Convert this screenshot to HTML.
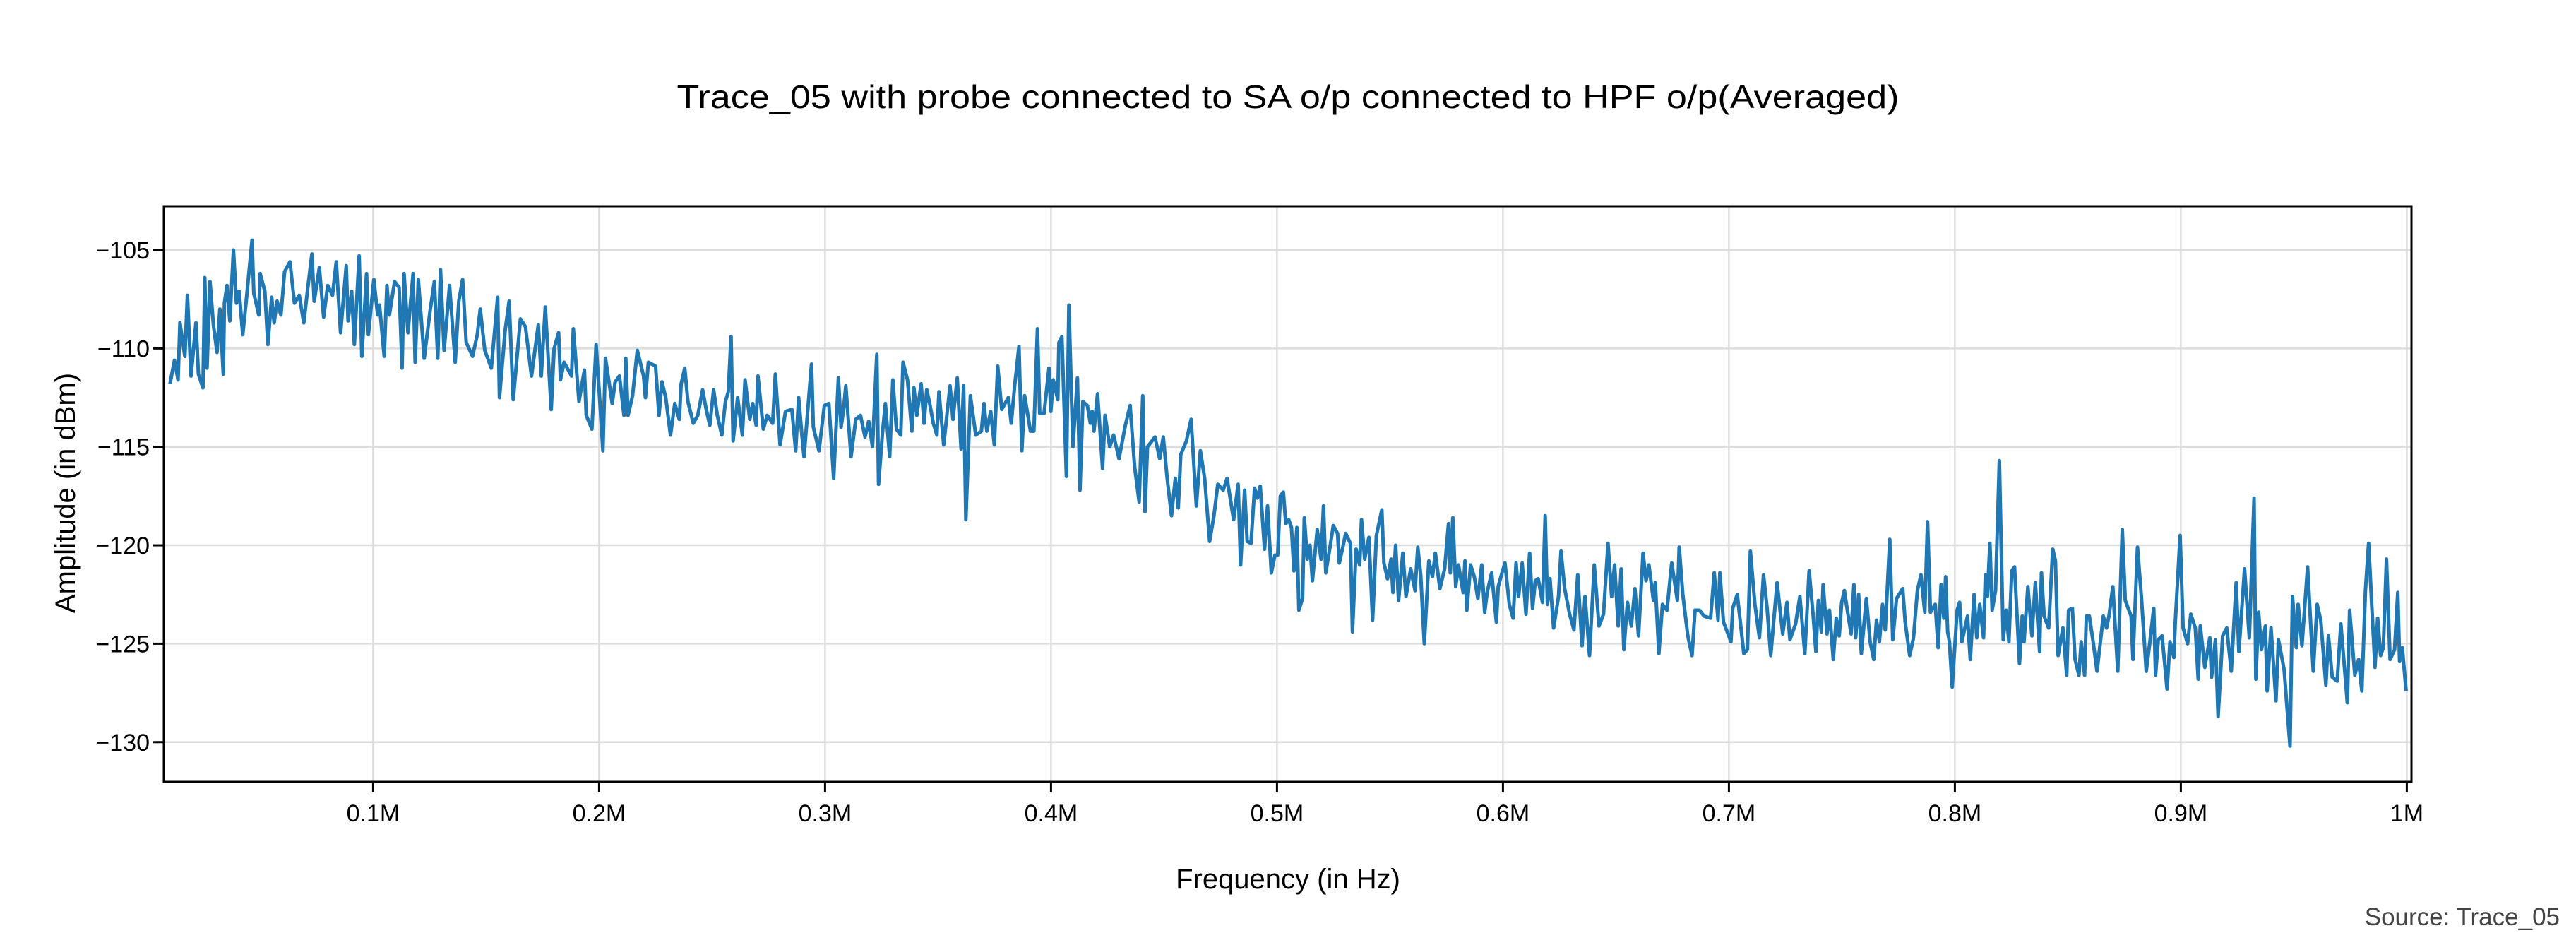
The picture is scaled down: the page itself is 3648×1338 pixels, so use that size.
<!DOCTYPE html>
<html><head><meta charset="utf-8"><style>
html,body{margin:0;padding:0;background:#fff;}
svg{display:block;font-family:"Liberation Sans",sans-serif;}
</style></head><body>
<svg id="chart" width="3648" height="1338" viewBox="0 0 3648 1338" xmlns="http://www.w3.org/2000/svg">
<rect x="0" y="0" width="3648" height="1338" fill="#fff"/>
<text x="1824" y="153" text-anchor="middle" font-size="46" textLength="1731" lengthAdjust="spacingAndGlyphs" fill="#000">Trace_05 with probe connected to SA o/p connected to HPF o/p(Averaged)</text>
<g id="grid"></g>
<g id="trace"></g>
<g id="axes"></g>
<text x="1824" y="1258" text-anchor="middle" font-size="40" fill="#000">Frequency (in Hz)</text>
<text x="0" y="0" transform="translate(106,698) rotate(-90)" text-anchor="middle" font-size="40" fill="#000">Amplitude (in dBm)</text>
<text x="3625" y="1310" text-anchor="end" font-size="35" fill="#444">Source: Trace_05</text>
</svg>
<script>
const freqKHz = [10.1,12.1,13.7,14.5,16.7,17.8,19.4,21.6,22.7,24.7,25.5,26.5,27.8,29.3,30.9,32.2,33.7,34.2,35.3,36.6,38.2,39.5,40.7,42.3,44.0,46.4,47.2,49.4,50.0,52.1,53.4,55.1,56.2,57.5,59.2,60.8,63.2,65.2,67.3,69.3,70.9,72.9,73.9,76.2,78.1,79.9,82.0,83.7,85.6,88.1,88.9,90.5,91.7,93.8,95.0,97.1,97.9,100.3,102.0,102.8,104.9,106.1,107.2,109.5,111.5,112.8,113.7,115.4,117.7,118.6,120.0,122.6,125.2,127.1,128.6,129.8,131.4,133.8,136.3,137.9,139.6,141.2,144.0,146.1,147.4,149.4,152.3,155.1,155.9,158.4,160.2,162.0,165.2,167.4,170.1,173.1,174.4,176.2,178.8,180.1,182.1,182.9,184.5,187.8,188.6,191.1,193.5,194.3,196.8,198.7,200.0,201.7,202.8,205.8,207.1,209.0,211.0,211.8,212.8,214.8,216.9,219.7,220.5,221.8,225.0,226.5,227.8,229.5,231.6,233.5,235.5,236.3,237.9,239.3,241.7,243.7,245.8,247.4,249.0,250.7,252.3,254.3,255.9,257.2,258.4,259.3,261.3,263.4,264.6,266.7,268.0,269.5,270.3,272.7,274.4,276.8,278.0,280.1,282.5,285.3,287.0,288.3,289.6,290.7,294.0,294.8,297.3,299.7,301.7,303.8,305.9,307.1,308.2,309.2,311.5,313.6,315.7,317.7,319.3,321.0,322.9,323.7,325.4,326.7,328.6,330.0,331.6,333.5,334.5,336.5,338.4,339.3,340.6,342.5,343.8,345.0,346.3,347.9,349.5,350.4,352.5,355.3,356.6,358.5,360.2,361.3,362.3,364.3,366.7,369.2,370.3,371.6,373.3,374.9,376.4,378.2,381.1,382.4,383.9,385.8,387.1,388.3,390.9,392.4,394.0,395.0,396.9,399.1,399.9,401.0,403.0,403.5,404.8,406.8,407.9,409.7,411.7,412.8,414.1,416.1,417.4,418.2,419.0,420.6,422.8,423.9,426.0,427.7,430.1,432.9,435.0,437.0,439.0,440.6,441.6,442.7,446.0,448.1,449.7,451.4,453.3,455.0,456.3,457.4,459.9,462.0,464.3,466.1,468.0,470.2,472.1,473.8,476.2,477.9,480.8,482.8,483.9,485.7,486.8,488.5,490.1,491.3,492.6,494.5,495.8,497.5,499.1,500.3,501.5,502.8,503.9,505.2,506.4,507.5,508.8,509.7,511.3,512.1,513.4,514.6,515.7,517.8,519.5,520.6,521.6,523.6,524.9,526.8,527.6,529.3,530.4,532.5,533.4,535.0,536.6,537.4,538.8,540.7,542.3,544.0,546.4,547.3,548.9,550.5,551.3,552.5,553.8,555.7,557.1,559.2,561.1,562.3,563.6,565.2,567.2,568.8,570.1,572.1,574.2,575.9,576.7,577.8,579.1,580.3,582.4,583.2,584.0,585.7,587.3,588.9,590.6,591.9,593.0,595.0,597.1,597.9,599.6,600.9,602.8,604.5,605.8,606.9,608.5,610.2,611.8,613.1,614.3,615.6,617.5,618.7,619.7,620.8,622.4,624.6,625.7,627.3,629.5,631.4,633.1,635.0,636.3,638.3,640.4,642.5,644.5,646.5,648.1,649.4,651.0,652.3,653.5,655.1,656.8,658.4,660.0,662.0,663.3,664.6,666.6,667.4,669.0,670.6,672.6,674.7,677.2,678.0,679.6,681.8,683.7,685.0,687.0,689.0,691.9,693.5,695.2,696.0,697.6,700.9,701.7,703.7,706.6,708.2,709.5,711.5,713.5,715.3,716.9,718.5,721.3,723.8,725.7,727.0,729.5,731.4,733.6,735.5,737.3,738.5,739.6,740.9,741.7,743.4,744.5,746.2,747.5,748.8,749.9,751.1,752.4,754.1,755.3,756.1,757.4,758.6,760.8,762.5,764.1,765.3,766.6,768.0,769.2,771.2,772.5,774.2,776.9,778.0,780.0,781.7,783.4,785.0,786.7,787.9,789.2,791.3,792.6,793.9,795.1,795.9,796.8,797.6,798.8,801.0,802.1,803.1,805.6,806.8,808.5,809.7,811.0,812.7,813.5,814.4,815.5,816.5,818.0,819.7,821.4,822.7,823.9,825.2,826.4,828.6,829.8,830.6,832.3,834.1,835.6,837.5,838.3,839.5,841.5,843.3,844.5,845.7,847.8,849.5,850.3,852.0,853.2,854.9,855.9,857.4,858.2,859.5,861.2,862.9,865.7,867.1,868.2,869.9,872.1,874.1,875.4,878.0,878.8,880.8,882.6,884.7,886.3,888.0,888.8,890.0,891.7,893.9,895.2,896.9,897.5,899.7,901.0,903.0,904.4,906.4,907.7,908.6,910.6,912.8,913.6,915.3,916.5,918.5,920.3,922.3,924.5,925.7,928.2,930.3,932.4,933.2,934.4,935.7,937.4,938.2,939.9,942.1,943.2,945.7,948.3,949.4,951.1,951.9,953.6,956.1,958.6,960.3,961.9,964.2,965.3,967.0,969.2,970.8,973.7,974.7,977.0,978.7,980.1,981.7,983.1,985.9,987.1,988.4,989.6,991.0,992.6,994.6,996.0,996.8,998.0,999.7];
const ampDbm = [-111.8,-110.6,-111.6,-108.7,-110.4,-107.3,-111.4,-108.7,-111.3,-112.0,-106.4,-111,-106.6,-108.8,-110.2,-108,-111.3,-107.7,-106.8,-108.6,-105,-107.7,-107.1,-109.3,-107.4,-104.5,-107.2,-108.3,-106.2,-107.1,-109.8,-107.4,-108.7,-107.6,-108.3,-106.1,-105.6,-107.7,-107.3,-108.7,-107.1,-105.2,-107.6,-105.9,-108.4,-106.8,-107.3,-105.6,-109.2,-105.8,-108.6,-107.1,-109.8,-105.3,-110.4,-106.2,-109.3,-106.5,-108.3,-107.8,-110.4,-106.8,-108.3,-106.6,-106.9,-111,-106.2,-109.2,-106.2,-110.7,-106.5,-110.5,-108.1,-106.6,-110.5,-106,-110.1,-106.8,-110.7,-107.6,-106.5,-109.7,-110.4,-109.3,-108,-110.1,-111,-107.4,-112.5,-109.1,-107.6,-112.6,-108.5,-108.9,-111.4,-108.8,-111.4,-107.9,-113.1,-110,-109.2,-111.6,-110.7,-111.4,-109,-112.7,-111.1,-113.4,-114.1,-109.8,-112.1,-115.2,-110.5,-112.8,-111.7,-111.4,-113.4,-110.5,-113.4,-112.4,-110.1,-111.4,-112.5,-110.7,-110.9,-113.4,-111.7,-112.5,-114.4,-112.8,-113.6,-111.8,-111,-112.7,-113.8,-113.4,-112.1,-113.1,-113.9,-112.1,-113.4,-114.4,-112.7,-112.2,-109.4,-114.7,-112.5,-114.4,-111.6,-113.6,-112.8,-113.9,-111.4,-114.1,-113.4,-113.8,-111.3,-114.9,-113.2,-113.1,-115.2,-112.5,-114.2,-115.5,-110.8,-114,-115.2,-112.9,-112.8,-116.6,-111.5,-114,-113.1,-111.9,-115.5,-113.6,-113.4,-114.5,-113.7,-115,-110.3,-116.9,-114.3,-112.8,-115.5,-111.6,-114.1,-114.4,-110.7,-111.6,-114.2,-112,-113.4,-111.8,-113.8,-112.1,-112.8,-113.8,-114.4,-112.2,-114.9,-111.9,-113.6,-111.5,-115.1,-111.9,-118.7,-112.4,-114.4,-114.2,-112.8,-114.2,-113.2,-114.9,-110.9,-113.1,-112.5,-113.8,-111.9,-109.9,-115.2,-112.4,-114.2,-114.2,-109,-113.3,-113.3,-111,-113.2,-111.6,-112.6,-109.7,-109.4,-116.5,-107.8,-115,-111.5,-117.2,-112.7,-112.9,-113.8,-113.2,-114.2,-112.3,-116.1,-113.4,-115,-114.4,-115.6,-113.9,-112.9,-116,-117.8,-112.4,-118.3,-115,-114.5,-115.6,-114.5,-116.6,-118.5,-116.6,-118.1,-115.4,-114.7,-113.6,-118,-115.2,-116.6,-119.8,-118.5,-116.9,-117.2,-116.6,-118.7,-116.9,-121,-117.2,-119.8,-119.9,-117.1,-117.6,-117,-120.2,-118,-121.4,-120.5,-120.5,-117.5,-117.3,-118.9,-118.7,-119.1,-121.3,-119.1,-123.3,-122.7,-118.6,-120.7,-120,-121.8,-119.2,-120.7,-118,-121.4,-120,-119,-119.4,-120.9,-120,-119.4,-119.9,-124.4,-120.2,-121,-118.7,-120.7,-119.6,-123.8,-119.5,-118.2,-120.9,-121.7,-120.7,-122.4,-120,-122.8,-120.4,-122.6,-121.2,-122.3,-120.1,-121.5,-125,-120.8,-121.6,-120.4,-122.2,-121.2,-118.9,-121.4,-118.6,-122.1,-121,-122.4,-120.8,-123.3,-121,-121.6,-122.7,-121,-123.4,-122.4,-121.4,-123.9,-122.1,-121.4,-120.9,-123,-123.7,-120.9,-122.6,-120.9,-123.5,-120.4,-123.2,-121.8,-121.7,-122.9,-118.5,-123,-121.7,-124.2,-122.6,-120.3,-122.2,-123.5,-124.3,-121.5,-125.1,-122.6,-125.6,-121,-124.1,-123.5,-119.9,-122.6,-121,-124.1,-121.2,-125.3,-122.9,-124.1,-122.2,-124.6,-120.4,-121.8,-121,-122.8,-121.9,-125.5,-123,-123.3,-120.9,-122.8,-120.1,-122.5,-124.6,-125.6,-123.3,-123.3,-123.6,-123.7,-121.4,-123.8,-121.4,-123.9,-124.9,-123.2,-122.5,-125.5,-125.3,-120.3,-123,-124.7,-121.5,-123.2,-125.6,-121.9,-124.5,-122.9,-124.8,-124,-122.6,-125.5,-121.3,-123.6,-125.4,-122.8,-124.4,-122,-124.5,-123.3,-125.8,-123.7,-124.6,-122.9,-122.3,-123.3,-124.5,-122,-124.7,-122.5,-125.5,-122.7,-124.9,-125.8,-123.8,-124.9,-123,-124.3,-119.7,-124.8,-122.7,-122.2,-123.9,-125.6,-124.7,-122.3,-121.5,-123.4,-118.8,-123.4,-123,-125.2,-122,-123.7,-121.6,-124.4,-124.9,-127.2,-123.3,-122.9,-124.9,-123.6,-125.8,-122.5,-124.7,-123,-124.7,-121.5,-122.6,-119.9,-123.3,-122.3,-115.7,-124.8,-123.3,-124.9,-121.3,-121.1,-126,-123.6,-124.9,-122.1,-124.6,-121.9,-125.4,-121.4,-123.6,-124.2,-120.2,-120.8,-125.6,-124.2,-126.6,-123.3,-123.2,-125.8,-126.6,-124.9,-126.6,-123.6,-123.6,-124.9,-126.4,-123.6,-124.2,-123.6,-122.1,-126.4,-119.2,-122.8,-123.6,-125.8,-120.1,-122.7,-126.4,-124.9,-123.2,-126.6,-124.8,-124.6,-127.3,-124.9,-125.7,-124,-119.5,-124.2,-125,-123.5,-124.2,-126.8,-124.1,-126.2,-124.7,-126.7,-124.8,-128.7,-124.6,-124.2,-126.4,-121.9,-125.4,-121.2,-124.7,-117.6,-126.8,-123.4,-125.3,-124.1,-127.4,-124.2,-127.9,-124.8,-126.3,-130.2,-122.6,-125.2,-123,-125.1,-121.1,-126.4,-123,-123.8,-127.1,-124.6,-126.7,-126.9,-124,-128,-123.3,-126.6,-125.8,-127.4,-122.3,-119.9,-126.2,-123.7,-125.6,-125.2,-120.7,-125.8,-125.3,-122.4,-125.9,-125.2,-127.4];
const yTicks = [-105,-110,-115,-120,-125,-130];
const yTickLabels = ["\u2212105","\u2212110","\u2212115","\u2212120","\u2212125","\u2212130"];
const xTicks = [100,200,300,400,500,600,700,800,900,1000];
const xTickLabels = ["0.1M","0.2M","0.3M","0.4M","0.5M","0.6M","0.7M","0.8M","0.9M","1M"];

const NS = "http://www.w3.org/2000/svg";
const L = 232, R = 3415, T = 292, B = 1107;
function xPos(k){ return 208.4 + k * 3.2; }
function yPos(v){ return 354 + (-105 - v) * 27.87; }
function mk(tag, attrs, parent){
  const e = document.createElementNS(NS, tag);
  for (const k in attrs) e.setAttribute(k, attrs[k]);
  parent.appendChild(e);
  return e;
}
const grid = document.getElementById('grid');
const axes = document.getElementById('axes');
const trace = document.getElementById('trace');

yTicks.forEach((v, i) => {
  const y = yPos(v);
  const g = mk('line', {x1: L, x2: R, y1: y, y2: y, stroke: '#dddddd', 'stroke-width': 2.5}, grid);
  
  
  const t = mk('line', {x1: L - 15, x2: L, y1: y, y2: y, stroke: '#000', 'stroke-width': 3}, axes);
  
  
  const lab = mk('text', {x: L - 20, y: y + 12, 'text-anchor': 'end', 'font-size': 34, fill: '#000'}, axes);
  lab.textContent = yTickLabels[i];
  
  
});
xTicks.forEach((k, i) => {
  const x = xPos(k);
  const g = mk('line', {x1: x, x2: x, y1: T, y2: B, stroke: '#dddddd', 'stroke-width': 2.5}, grid);
  
  
  const t = mk('line', {x1: x, x2: x, y1: B, y2: B + 15, stroke: '#000', 'stroke-width': 3}, axes);
  
  
  const lab = mk('text', {x: x, y: 1163, 'text-anchor': 'middle', 'font-size': 34, fill: '#000'}, axes);
  lab.textContent = xTickLabels[i];
  
  
});
const frame = mk('rect', {x: L, y: T, width: R - L, height: B - T, fill: 'none', stroke: '#000', 'stroke-width': 3}, axes);



let d = '';
for (let i = 0; i < freqKHz.length; i++) {
  d += (i ? 'L' : 'M') + xPos(freqKHz[i]).toFixed(1) + ',' + yPos(ampDbm[i]).toFixed(1);
}
const path = mk('path', {d: d, fill: 'none', stroke: '#1f77b4', 'stroke-width': 5, 'stroke-linejoin': 'round'}, trace);


</script>
</body></html>
